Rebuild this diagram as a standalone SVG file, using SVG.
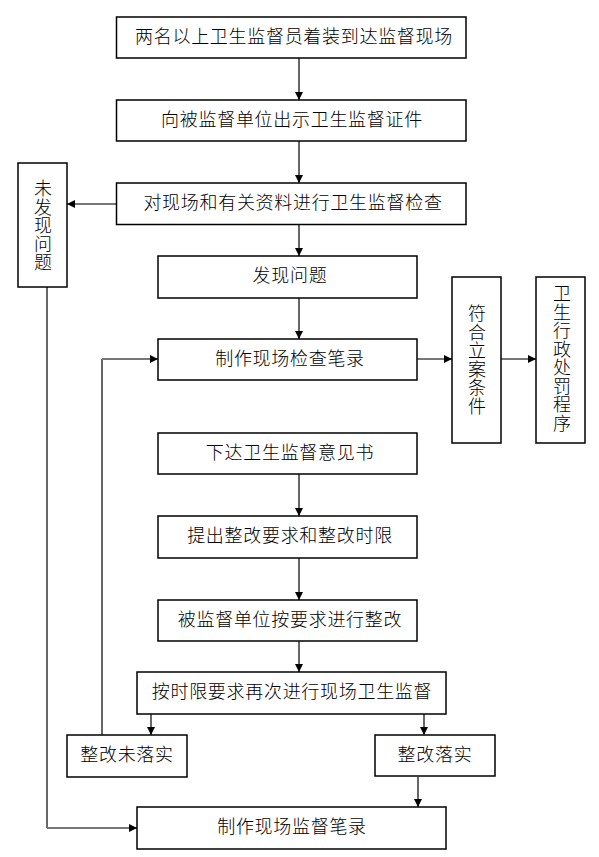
<svg xmlns="http://www.w3.org/2000/svg" width="599" height="857" viewBox="0 0 599 857">
<style>
.box{fill:#fff;stroke:#000;stroke-width:1.5}
.t{font-family:"Liberation Serif","Noto Sans CJK SC",serif;font-size:18px;font-weight:300;letter-spacing:0.7px;fill:#000;text-anchor:middle}
.v{font-family:"Liberation Serif","Noto Sans CJK SC",serif;font-size:18px;font-weight:300;fill:#000;text-anchor:middle}
.k{fill:none;stroke:#000;stroke-width:1.2}
.g{fill:none;stroke:#777;stroke-width:2}
</style>
<defs>
<marker id="ah" viewBox="0 0 10 10" refX="10" refY="5" markerWidth="8" markerHeight="8" markerUnits="userSpaceOnUse" orient="auto">
<path d="M0,0 L10,5 L0,10 z" fill="#000"/>
</marker>
</defs>
<rect width="599" height="857" fill="#fff"/>
<g id="connectors">
<line class="k" x1="299" y1="58" x2="299" y2="100" marker-end="url(#ah)"/>
<line class="k" x1="299" y1="141" x2="299" y2="183" marker-end="url(#ah)"/>
<line class="g" x1="116" y1="204" x2="67" y2="204" marker-end="url(#ah)"/>
<line class="k" x1="299" y1="225" x2="299" y2="256" marker-end="url(#ah)"/>
<line class="k" x1="299" y1="298" x2="299" y2="339" marker-end="url(#ah)"/>
<line class="g" x1="417" y1="359" x2="452" y2="359" marker-end="url(#ah)"/>
<line class="g" x1="501" y1="359" x2="536" y2="359" marker-end="url(#ah)"/>
<line class="k" x1="299" y1="474" x2="299" y2="516" marker-end="url(#ah)"/>
<line class="k" x1="299" y1="558" x2="299" y2="600" marker-end="url(#ah)"/>
<line class="k" x1="299" y1="641" x2="299" y2="672" marker-end="url(#ah)"/>
<line class="k" x1="151" y1="714" x2="151" y2="735" marker-end="url(#ah)"/>
<line class="k" x1="424" y1="714" x2="424" y2="735" marker-end="url(#ah)"/>
<line class="k" x1="418" y1="777" x2="418" y2="807" marker-end="url(#ah)"/>
<line class="k" x1="102" y1="735" x2="102" y2="359"/>
<line class="g" x1="102" y1="359" x2="158" y2="359" marker-end="url(#ah)"/>
<line class="k" x1="47" y1="287" x2="47" y2="828"/>
<line class="g" x1="47" y1="828" x2="137" y2="828" marker-end="url(#ah)"/>
</g>
<g id="n1"><rect class="box" x="116.5" y="17" width="349.5" height="41"/><text class="t" x="294" y="43">两名以上卫生监督员着装到达监督现场</text></g>
<g id="n2"><rect class="box" x="116.5" y="100" width="349.5" height="41"/><text class="t" x="292" y="126">向被监督单位出示卫生监督证件</text></g>
<g id="n3"><rect class="box" x="116.5" y="183" width="349.5" height="41.5"/><text class="t" x="293" y="209">对现场和有关资料进行卫生监督检查</text></g>
<g id="n_side"><rect class="box" x="18" y="163" width="49" height="124"/><text class="v" x="43"><tspan x="43" y="195">未</tspan><tspan x="43" y="213.5">发</tspan><tspan x="43" y="232">现</tspan><tspan x="43" y="250.5">问</tspan><tspan x="43" y="269">题</tspan></text></g>
<g id="n4"><rect class="box" x="158" y="256" width="259" height="42"/><text class="t" x="290" y="282">发现问题</text></g>
<g id="n5"><rect class="box" x="158" y="339" width="259" height="41"/><text class="t" x="290" y="365">制作现场检查笔录</text></g>
<g id="n_case"><rect class="box" x="452" y="277" width="49" height="166"/><text class="v" x="477"><tspan x="477" y="320">符</tspan><tspan x="477" y="338.5">合</tspan><tspan x="477" y="357">立</tspan><tspan x="477" y="375.5">案</tspan><tspan x="477" y="394">条</tspan><tspan x="477" y="412.5">件</tspan></text></g>
<g id="n_penalty"><rect class="box" x="536" y="277" width="49" height="166"/><text class="v" x="562"><tspan x="562" y="300">卫</tspan><tspan x="562" y="318.5">生</tspan><tspan x="562" y="337">行</tspan><tspan x="562" y="355.5">政</tspan><tspan x="562" y="374">处</tspan><tspan x="562" y="392.5">罚</tspan><tspan x="562" y="411">程</tspan><tspan x="562" y="429.5">序</tspan></text></g>
<g id="n6"><rect class="box" x="158" y="433" width="259" height="41"/><text class="t" x="290" y="459">下达卫生监督意见书</text></g>
<g id="n7"><rect class="box" x="158" y="516" width="259" height="42"/><text class="t" x="290" y="542">提出整改要求和整改时限</text></g>
<g id="n8"><rect class="box" x="158" y="600" width="259" height="41"/><text class="t" x="290" y="626">被监督单位按要求进行整改</text></g>
<g id="n9"><rect class="box" x="137" y="672" width="309" height="42"/><text class="t" x="292" y="698">按时限要求再次进行现场卫生监督</text></g>
<g id="n10"><rect class="box" x="67" y="735" width="120" height="42"/><text class="t" x="127" y="761">整改未落实</text></g>
<g id="n11"><rect class="box" x="375" y="735" width="120" height="41"/><text class="t" x="435" y="761">整改落实</text></g>
<g id="n12"><rect class="box" x="137" y="807" width="309" height="42"/><text class="t" x="292" y="833">制作现场监督笔录</text></g>
</svg>
